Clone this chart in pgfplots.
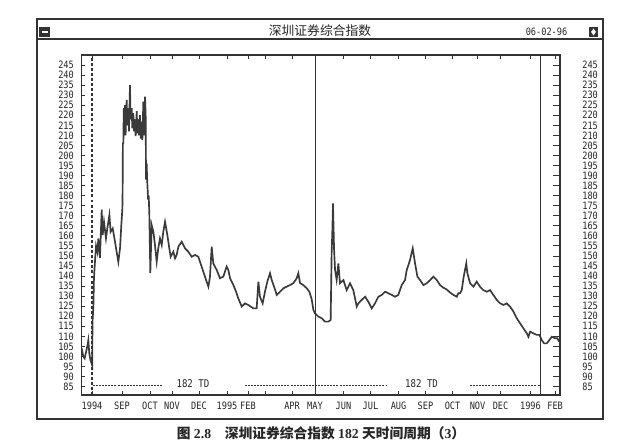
\documentclass[border=0pt]{standalone}
\usepackage{pgfplots}
\usepackage{pgfplotstable}
\pgfplotsset{compat=1.18}
\usepackage{fontspec}
\setmainfont{Liberation Serif}
\newfontfamily\pcfont[FakeStretch=0.85]{DejaVu Sans Mono}
\newfontfamily\cjk{Noto Sans CJK SC}

\definecolor{ink}{HTML}{3A3A3A}
\definecolor{frame}{HTML}{333333}

% trading days counted from the first cycle line, index value
\pgfplotstableread{
t v
-8.4 104
-7.1 100
-6.0 99
-4.9 102
-3.5 106
-3.0 108
-2.2 101.5
-1.2 98
-0.3 96.5
0.2 95.5
0.4 117
1.1 124
1.6 139
2.4 147
3.3 155
4.4 152
5.2 158.7
6.5 149
7.9 173
8.7 160.4
9.8 167
11.4 158.7
12.5 163.7
14.2 170.4
15.2 162
16.9 163.7
18.8 157
20.1 152
21.5 147
22.9 154
23.9 165
24.8 173.7
25.0 182.8
25.2 206
25.6 206
25.9 223.5
26.3 212
26.9 225
27.4 210
28.3 227.6
28.8 215
29.6 223.5
30.2 212
31.0 235
31.5 218
32.4 223.5
32.9 213.5
33.7 221
34.3 212
35.1 218
35.6 209.6
36.5 222
37.0 211
37.8 218
38.4 210
39.2 220
39.8 208.4
40.6 216.7
41.1 207.6
41.9 226.8
42.5 210
43.3 229.3
43.8 220
44.1 188
44.6 196
45.1 187
45.8 178
46.3 180
46.8 170.4
47.6 141.4
48.7 165.4
50.1 162
51.4 155.4
52.8 147.1
54.1 153.8
55.5 158.7
56.9 155.4
58.2 162
59.6 167
61.5 160.4
63.1 153.8
64.2 149.6
66.4 152.1
67.8 148.8
69.1 150.5
70.5 154.6
71.3 155.4
73.2 157.1
75.9 153.8
78.6 152.1
81.4 149.6
84.1 150.5
86.8 149.6
89.5 144.7
92.2 139.7
95.0 134.7
96.3 139.7
97.7 154.6
99.0 146.3
101.8 143
104.5 138.9
107.2 139.7
109.9 144.7
111.3 143
112.7 138.9
115.4 135.5
117.6 132.2
119.4 128.9
122.2 124.8
124.9 126.4
127.6 125.6
131.7 123.9
134.4 123.9
135.8 137.2
137.1 129.7
139.3 126.4
141.2 132.2
143.1 137.2
145.3 141.4
146.7 138
148.6 134.7
150.8 130.6
153.5 132.2
156.2 133.9
158.9 134.7
161.6 135.5
164.3 136.4
167.1 138.9
168.4 141.4
169.8 136.5
172.5 135.5
175.3 133.9
177.4 132.2
179.3 128.5
180.7 123.1
182.0 121.4
184.8 119.8
187.5 119
190.2 117.3
192.9 117.3
194.8 118.1
195.6 151.3
196.2 162.9
196.7 176.2
197.6 153
198.4 143
199.7 138
201.1 146.3
202.4 136.4
205.2 138
207.9 133
210.6 136.4
213.3 133
216.1 124.8
217.4 126.4
220.1 128.1
222.9 129.7
225.6 127.2
228.3 123.9
231.0 126.4
233.7 129.7
236.5 130.6
239.2 132.2
241.9 131.4
244.7 130.6
247.3 129.7
250.0 130.6
252.8 135.5
255.5 138
256.9 143
259.6 148
261.8 153.8
263.7 146.3
265.6 139.7
267.8 138
270.5 135.5
273.2 136.4
276.0 138
278.7 139.7
281.4 138
284.1 135.5
286.8 134.2
289.6 133.3
292.2 131.8
295.0 130.6
297.7 129.7
299.0 131.4
300.4 131.4
301.8 133
303.4 139.7
305.5 146.3
306.4 141.4
308.6 136.4
311.3 134.7
314.0 137.2
316.7 134.7
319.4 133
322.2 132.2
324.9 133
327.6 130.6
330.4 128.1
333.1 126.4
335.8 125.6
338.5 126.4
341.2 124.8
344.0 122.3
346.7 119
349.4 116.5
352.1 114
354.9 111.5
356.2 109.8
357.6 112.3
360.3 111.5
363.0 110.7
365.2 110.7
367.1 108.1
369.0 106.5
371.2 106.5
373.3 108.1
375.3 109.8
378.0 109
379.8 109
381.4 107.3
}\szdata

\pgfplotsset{
  pcaxis/.style={
    at={(61.1pt,38.25pt)}, anchor=south west,
    scale only axis, width=358.9pt, height=255pt,
    xmin=-8.6, xmax=382, ymin=80.8, ymax=250,
    axis line style={frame, line width=0.8pt},
    tick style={frame, line width=0.6pt},
    tick align=inside,
    ytick={85,90,...,245},
    /pgf/number format/assume math mode=true,
    ticklabel style={font=\pcfont\fontsize{7.6}{8}\selectfont, text=black!85},
  }
}

\begin{document}
\begin{tikzpicture}
\fill[white] (0,0) rectangle (468.75pt,334.5pt);
\useasboundingbox (0,0) rectangle (468.75pt,334.5pt);

\begin{axis}[pcaxis,
  major tick length=3pt,
  ytick pos=left,
  yticklabel style={xshift=-2.2pt},
  xtick pos=both,
  xtick={0,24.5,47.3,65.3,87.3,110.2,127.3,141.2,163.3,182,205.3,227.3,250.2,272.2,294.3,314.7,333.5,357.9,378},
  xticklabels={1994,SEP,OCT,NOV,DEC,1995,FEB,,APR,MAY,JUN,JUL,AUG,SEP,OCT,NOV,DEC,1996,FEB},
  xticklabel style={yshift=-2pt},
]
\addplot[ink, line width=1.25pt, line join=miter] table[x=t,y=v] {\szdata};
% cycle lines, 182 trading days apart
\draw[frame, line width=0.8pt, dash pattern=on 2.2pt off 1.6pt] (axis cs:0,80.8) -- (axis cs:0,250);
\draw[frame, line width=0.7pt] (axis cs:182,80.8) -- (axis cs:182,250);
\draw[frame, line width=0.7pt] (axis cs:366,80.8) -- (axis cs:366,250);
\draw[frame, line width=0.6pt, dash pattern=on 1.5pt off 0.8pt] (axis cs:0.8,85.4) -- (axis cs:58,85.4);
\draw[frame, line width=0.6pt, dash pattern=on 1.5pt off 0.8pt] (axis cs:124.5,85.4) -- (axis cs:182,85.4);
\draw[frame, line width=0.6pt, dash pattern=on 1.5pt off 0.8pt] (axis cs:182,85.4) -- (axis cs:240,85.4);
\draw[frame, line width=0.6pt, dash pattern=on 1.5pt off 0.8pt] (axis cs:308.6,85.4) -- (axis cs:366,85.4);
\node[font=\pcfont\fontsize{8}{9}\selectfont, text=black!85] at (axis cs:82.4,86.5) {182 TD};
\node[font=\pcfont\fontsize{8}{9}\selectfont, text=black!85] at (axis cs:269,86.5) {182 TD};
\end{axis}

\begin{axis}[pcaxis,
  major tick length=5pt,
  axis y line*=right, axis x line=none,
  yticklabel style={anchor=west, xshift=13.2pt},
]
\end{axis}

\begin{scope}[x=0.75pt, y=0.75pt]
% window frame
\draw[frame, line width=2pt] (37,427) rectangle (603,27);
\draw[frame, line width=0.9pt] (37,407) -- (603,407);
\fill[frame] (39,419) rectangle (50,409);
\draw[white, line width=1.4pt] (41.5,414) -- (47.5,414);
\fill[frame] (589,419) rectangle (598,409);
\fill[white] (591,413.5) -- (596,413.5) -- (593.5,417.5) -- cycle;
\fill[white] (591,414.5) -- (596,414.5) -- (593.5,410.5) -- cycle;
\node[font=\cjk\fontsize{9.6}{10}\selectfont, text=black!85] at (320,415) {深圳证券综合指数};
\node[font=\pcfont\fontsize{7.6}{8}\selectfont, text=black!85] at (546.5,414) {06-02-96};
% caption
\node[font=\fontsize{10.3}{11}\selectfont, text=black!85] at (321,13)
  {{\cjk\bfseries 图} \textbf{2.8}\quad{\cjk\bfseries 深圳证券综合指数} \textbf{182} {\cjk\bfseries 天时间周期（}\textbf{3}{\cjk\bfseries ）}};
\end{scope}
\end{tikzpicture}
\end{document}
